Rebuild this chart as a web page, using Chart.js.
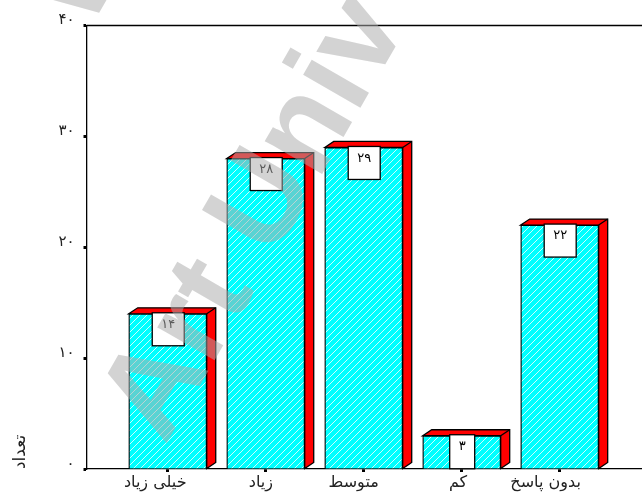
<!DOCTYPE html>
<html>
<head>
<meta charset="utf-8">
<style>
  html, body { margin: 0; padding: 0; background: #fff; }
  #wrap { width: 642px; height: 496px; }
</style>
<script src="https://cdn.jsdelivr.net/npm/chart.js@4"></script>
</head>
<body>
<div id="wrap"><canvas id="c" width="642" height="496"></canvas></div>
<script>
const categories = ['خیلی زیاد', 'زیاد', 'متوسط', 'کم', 'بدون پاسخ'];
const counts = [14, 28, 29, 3, 22];
const yTicks = [0, 10, 20, 30, 40];
const yTitle = 'تعداد';

const FONT = '"DejaVu Sans"';

function toPersian(n) {
    return String(n).replace(/[0-9]/g, d => '۰۱۲۳۴۵۶۷۸۹'[d]);
}

// cyan with thin white diagonal hatch
function hatch() {
    const p = document.createElement('canvas');
    p.width = 7; p.height = 7;
    const g = p.getContext('2d');
    g.fillStyle = '#00ffff';
    g.fillRect(0, 0, 7, 7);
    g.strokeStyle = '#ffffff';
    g.lineWidth = 0.8;
    g.beginPath();
    g.moveTo(-1, 1); g.lineTo(1, -1);
    g.moveTo(-1, 8); g.lineTo(8, -1);
    g.moveTo(6, 8); g.lineTo(8, 6);
    g.stroke();
    return g.createPattern(p, 'repeat');
}

// red side and top faces behind each bar
const depthPlugin = {
    id: 'depth',
    beforeDatasetsDraw(chart) {
        const ctx = chart.ctx;
        const dx = 9, dy = 6;
        ctx.save();
        ctx.fillStyle = '#ff0000';
        ctx.strokeStyle = '#000';
        ctx.lineWidth = 1.3;
        ctx.lineJoin = 'miter';
        chart.getDatasetMeta(0).data.forEach(b => {
            const l = b.x - b.width / 2, r = b.x + b.width / 2, t = b.y, m = b.base;
            ctx.beginPath();
            ctx.moveTo(l, t);
            ctx.lineTo(l + dx, t - dy);
            ctx.lineTo(r + dx, t - dy);
            ctx.lineTo(r + dx, m - dy);
            ctx.lineTo(r, m);
            ctx.lineTo(r, t);
            ctx.closePath();
            ctx.fill();
            ctx.stroke();
            ctx.beginPath();
            ctx.moveTo(r, t);
            ctx.lineTo(r + dx, t - dy);
            ctx.stroke();
        });
        ctx.restore();
    },
    afterDatasetsDraw(chart) {
        const ctx = chart.ctx;
        ctx.save();
        chart.getDatasetMeta(0).data.forEach((b, i) => {
            const w = counts[i] < 10 ? 25 : 32;
            const h = counts[i] < 10 ? 34 : 33;
            const x = b.x - w / 2 + 0.5, y = b.y - 1;
            ctx.fillStyle = '#fff';
            ctx.strokeStyle = '#000';
            ctx.lineWidth = 1.3;
            ctx.fillRect(x, y, w, h);
            ctx.strokeRect(x, y, w, h);
            ctx.fillStyle = '#000';
            ctx.font = '13px ' + FONT;
            ctx.textAlign = 'center';
            ctx.textBaseline = 'middle';
            ctx.fillText(toPersian(counts[i]), x + w / 2, y + 12);
        });
        ctx.restore();
    }
};

// category labels sit left of their tick, more so the longer they are
const labelShiftPlugin = {
    id: 'labelShift',
    afterUpdate(chart) {
        const ctx = chart.ctx;
        ctx.save();
        ctx.font = '16px ' + FONT;
        chart.scales.x.getLabelItems().forEach(it => {
            it.options.translation[0] -= ctx.measureText(it.label).width * 0.2;
        });
        ctx.restore();
    }
};

// top frame line and the grey watermark across the picture
const framePlugin = {
    id: 'frame',
    afterDraw(chart) {
        const ctx = chart.ctx;
        const a = chart.chartArea;
        ctx.save();
        ctx.strokeStyle = '#000';
        ctx.lineWidth = 1.3;
        ctx.beginPath();
        ctx.moveTo(a.left, a.top);
        ctx.lineTo(a.right, a.top);
        ctx.stroke();
        ctx.restore();

        ctx.save();
        ctx.translate(165, 446);
        ctx.rotate(-60 * Math.PI / 180);
        ctx.font = 'bold 125px "Liberation Sans"';
        ctx.fillStyle = 'rgba(171,171,171,0.52)';
        ctx.textBaseline = 'alphabetic';
        ctx.fillText('Art Univ', 0, 0);
        ctx.restore();

        ctx.save();
        ctx.translate(88, 32);
        ctx.rotate(-60 * Math.PI / 180);
        ctx.font = 'bold 125px "Liberation Sans"';
        ctx.fillStyle = 'rgba(171,171,171,0.52)';
        ctx.fillText('W', 0, 0);
        ctx.restore();
    }
};

new Chart(document.getElementById('c'), {
    type: 'bar',
    data: {
        datasets: [{
            data: counts.map((v, i) => ({ x: i, y: v })),
            backgroundColor: hatch(),
            borderColor: '#000',
            borderWidth: 1.3,
            barThickness: 78
        }]
    },
    options: {
        responsive: false,
        animation: false,
        layout: { padding: { top: 25.5, right: 0, left: 0, bottom: 0 } },
        plugins: { legend: { display: false }, tooltip: { enabled: false } },
        scales: {
            x: {
                type: 'linear',
                offset: false,
                min: -0.829,
                max: 4.84,
                afterBuildTicks(s) { s.ticks = categories.map((c, i) => ({ value: i })); },
                afterFit(s) { s.height = 27; },
                grid: { offset: false, drawOnChartArea: false, tickLength: 3, tickWidth: 3, tickColor: '#000' },
                border: { color: '#000', width: 1.3 },
                ticks: {
                    callback: v => categories[v],
                    color: '#222',
                    font: { family: FONT, size: 16 },
                    padding: 1,
                    maxRotation: 0,
                    autoSkip: false
                }
            },
            y: {
                min: 0,
                max: 40,
                afterBuildTicks(s) { s.ticks = yTicks.map(v => ({ value: v })); },
                afterFit(s) { s.width = 86.5; },
                grid: { drawOnChartArea: false, tickLength: 3, tickWidth: 3, tickColor: '#000' },
                border: { color: '#000', width: 1.3 },
                title: {
                    display: true,
                    text: yTitle,
                    align: 'start',
                    color: '#222',
                    font: { family: FONT, size: 17 },
                    padding: { top: 10, bottom: 0 }
                },
                ticks: {
                    callback: v => toPersian(v),
                    color: '#222',
                    font: { family: FONT, size: 15 },
                    padding: 9,
                    labelOffset: -5
                }
            }
        }
    },
    plugins: [depthPlugin, labelShiftPlugin, framePlugin]
});
</script>
</body>
</html>
